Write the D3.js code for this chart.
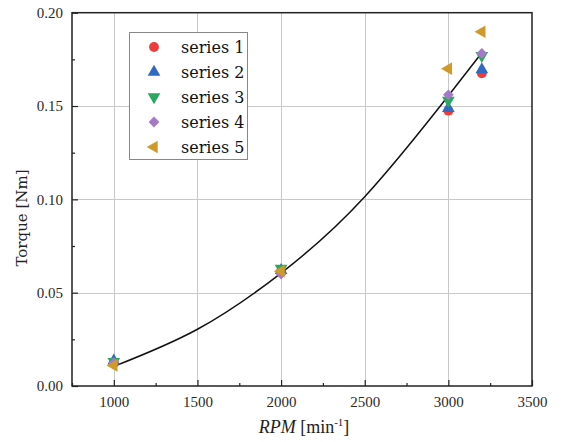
<!DOCTYPE html>
<html>
<head>
<meta charset="utf-8">
<script src="https://cdn.jsdelivr.net/npm/d3@7"></script>
<style>
  body { margin: 0; background: #fff; }
  svg { display: block; }
</style>
</head>
<body>
<div id="chart"></div>
<script>
// data
const rpm = [1000, 2000, 3000, 3200];
const series1 = [0.0120, 0.0615, 0.1475, 0.1675];
const series2 = [0.0135, 0.0620, 0.1488, 0.1695];
const series3 = [0.0130, 0.0630, 0.1530, 0.1770];
const series4 = [0.0125, 0.0600, 0.1560, 0.1782];
const series5 = [0.0110, 0.0615, 0.1700, 0.1898];
const seriesNames = ['series 1', 'series 2', 'series 3', 'series 4', 'series 5'];
const fitRpm = [1000, 1500, 2000, 2500, 3000, 3200];
const fitTorque = [0.0105, 0.0304, 0.0605, 0.1014, 0.1555, 0.1785];
const xTicks = [1000, 1500, 2000, 2500, 3000, 3500];
const yTicks = [0.00, 0.05, 0.10, 0.15, 0.20];

const width = 566, height = 442;
const plotLeft = 72, plotRight = 532, plotTop = 12.7, plotBottom = 386;

const svg = d3.select('#chart').append('svg')
    .attr('width', width)
    .attr('height', height);

const x = d3.scaleLinear().domain([750, 3500]).range([plotLeft, plotRight]);
const y = d3.scaleLinear().domain([0, 0.20]).range([plotBottom, plotTop]);

// grid
const grid = svg.append('g').attr('stroke', '#c8c8c8').attr('stroke-width', 1);
grid.selectAll('line.gx').data(xTicks.filter(d => d < 3500)).enter().append('line')
    .attr('x1', d => Math.round(x(d)) + 0.5).attr('x2', d => Math.round(x(d)) + 0.5)
    .attr('y1', plotTop).attr('y2', plotBottom);
grid.selectAll('line.gy').data(yTicks.filter(d => d > 0 && d < 0.2)).enter().append('line')
    .attr('y1', d => Math.round(y(d)) + 0.5).attr('y2', d => Math.round(y(d)) + 0.5)
    .attr('x1', plotLeft).attr('x2', plotRight);

// axes with inward ticks
const xAxis = d3.axisBottom(x).tickValues(xTicks).tickSize(-6).tickPadding(10)
    .tickFormat(d3.format('d'));
const xMinor = d3.axisBottom(x).tickValues(d3.range(1000, 3500, 500).map(d => d + 250).concat([750]))
    .tickSize(-3).tickFormat('');
const yAxis = d3.axisLeft(y).tickValues(yTicks).tickSize(-6).tickPadding(9)
    .tickFormat(d3.format('.2f'));
const yMinor = d3.axisLeft(y).tickValues([0.025, 0.075, 0.125, 0.175]).tickSize(-3).tickFormat('');

function styleAxis(g) {
    g.select('.domain').remove();
    g.selectAll('.tick line').attr('stroke', '#222').attr('stroke-width', 1.2);
    g.selectAll('.tick text')
        .attr('fill', '#2a2a2a')
        .style('font-family', '"Liberation Serif", serif')
        .style('font-size', '15px');
}
svg.append('g').attr('transform', `translate(0,${plotBottom})`).call(xAxis).call(styleAxis);
svg.append('g').attr('transform', `translate(0,${plotBottom})`).call(xMinor).call(styleAxis);
svg.append('g').attr('transform', `translate(${plotLeft},0)`).call(yAxis).call(styleAxis);
svg.append('g').attr('transform', `translate(${plotLeft},0)`).call(yMinor).call(styleAxis);

// frame
svg.append('rect')
    .attr('x', plotLeft).attr('y', plotTop)
    .attr('width', plotRight - plotLeft).attr('height', plotBottom - plotTop)
    .attr('fill', 'none').attr('stroke', '#222').attr('stroke-width', 1.5);

// fit curve
svg.append('path')
    .datum(fitRpm.map((d, i) => [d, fitTorque[i]]))
    .attr('d', d3.line().x(d => x(d[0])).y(d => y(d[1])).curve(d3.curveNatural))
    .attr('fill', 'none')
    .attr('stroke', '#111')
    .attr('stroke-width', 1.5);

// markers
const colors = ['#ee3b3b', '#2f6bc0', '#2aa860', '#a678c8', '#d09a2a'];
const symbols = [
    { type: d3.symbolCircle, size: 76, rotate: 0 },
    { type: d3.symbolTriangle, size: 70, rotate: 0 },
    { type: d3.symbolTriangle, size: 70, rotate: 180 },
    { type: d3.symbolSquare, size: 58, rotate: 45 },
    { type: d3.symbolTriangle, size: 70, rotate: -90 }
];
const allSeries = [series1, series2, series3, series4, series5];

allSeries.forEach((vals, si) => {
    const s = symbols[si];
    svg.append('g').selectAll('path').data(vals).enter().append('path')
        .attr('d', d3.symbol().type(s.type).size(s.size))
        .attr('transform', (d, i) => `translate(${x(rpm[i])},${y(d)}) rotate(${s.rotate})`)
        .attr('fill', colors[si]);
});

// legend
const legend = svg.append('g');
legend.append('rect')
    .attr('x', 129.5).attr('y', 32.5).attr('width', 118).attr('height', 127)
    .attr('fill', '#fff').attr('stroke', '#888').attr('stroke-width', 1);
seriesNames.forEach((name, si) => {
    const s = symbols[si];
    const cy = 47 + si * 25;
    legend.append('path')
        .attr('d', d3.symbol().type(s.type).size(s.size))
        .attr('transform', `translate(154,${cy}) rotate(${s.rotate})`)
        .attr('fill', colors[si]);
    legend.append('text')
        .attr('x', 181).attr('y', cy + 6)
        .attr('fill', '#111')
        .style('font-family', '"DejaVu Serif", serif')
        .style('font-size', '16px')
        .text(name);
});

// axis titles
svg.append('text')
    .attr('transform', 'translate(27,218) rotate(-90)')
    .attr('text-anchor', 'middle')
    .attr('fill', '#222')
    .style('font-family', '"DejaVu Serif", serif')
    .style('font-size', '15px')
    .text('Torque [Nm]');

const xt = svg.append('text')
    .attr('x', 304).attr('y', 433)
    .attr('text-anchor', 'middle')
    .attr('fill', '#222')
    .style('font-family', '"Liberation Serif", serif')
    .style('font-size', '18px');
xt.append('tspan').style('font-style', 'italic').text('RPM');
xt.append('tspan').text(' [min');
xt.append('tspan').attr('dy', -7).style('font-size', '11px').text('-1');
xt.append('tspan').attr('dy', 7).text(']');
</script>
</body>
</html>
